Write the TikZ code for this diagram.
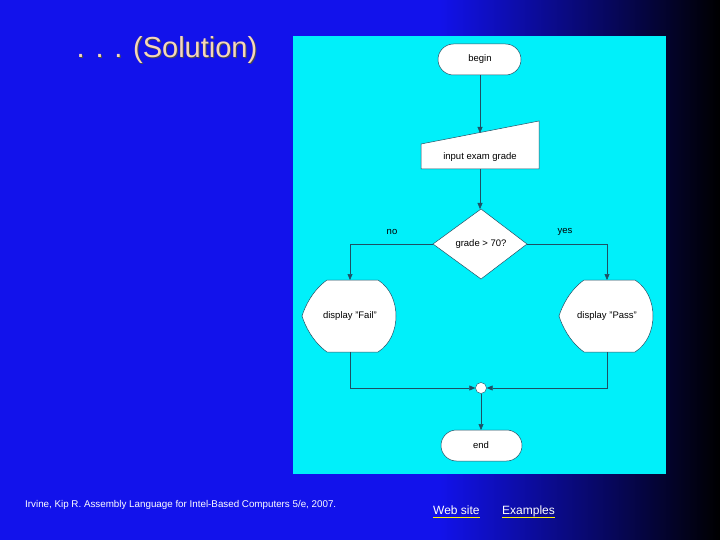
\documentclass[tikz,border=0pt]{standalone}
\usepackage{fontspec}
\setmainfont{Liberation Sans}
\usetikzlibrary{shapes.geometric,arrows.meta}
\definecolor{bgblue}{RGB}{18,18,235}
\definecolor{cyanbg}{RGB}{0,240,250}
\definecolor{titlec}{RGB}{245,215,185}
\definecolor{linec}{RGB}{30,80,100}
\begin{document}
\begin{tikzpicture}[x=1pt,y=-1pt,
  box/.style={draw=linec,fill=white,line width=0.5pt},
  lbl/.style={font=\fontsize{9.5}{11}\selectfont,text=black},
  conn/.style={draw=linec,line width=0.5pt},
  arr/.style={conn,-{Triangle[length=6pt,width=5pt]}}]
\useasboundingbox (0,0) rectangle (720,540);
\fill[bgblue] (0,0) rectangle (440,540);
\shade[left color=bgblue,right color=black] (439,0) rectangle (720,540);
\fill[cyanbg] (293,36) rectangle (666,474);
% title
\node[text=black!70,font=\fontsize{29}{32}\selectfont] at (168,51) {. . . (Solution)};
\node[text=titlec,font=\fontsize{29}{32}\selectfont] (title) at (167,50) {. . . (Solution)};
% shapes
\draw[box,rounded corners=15.5pt] (438,44) rectangle (521,75);
\node[lbl] (begin) at (480,59) {begin};
\draw[box] (421,144) -- (539,121) -- (539,169) -- (421,169) -- cycle;
\node[lbl] (input) at (480,157) {input exam grade};
\draw[box] (481,209) -- (527,244) -- (481,279) -- (433,244) -- cycle;
\node[lbl] (dec) at (481,244) {grade > 70?};
\coordinate (decL) at (433,244);
\coordinate (decR) at (527,244);
\draw[box] (327,280) -- (378,280) .. controls (402,295) and (402,337) .. (378,352) -- (327,352) .. controls (313,342) and (305,326) .. (302,316) .. controls (305,306) and (313,290) .. (327,280) -- cycle;
\node[lbl] (fail) at (350,316) {display "Fail"};
\draw[box] (584,280) -- (635,280) .. controls (659,295) and (659,337) .. (635,352) -- (584,352) .. controls (570,342) and (562,326) .. (559,316) .. controls (562,306) and (570,290) .. (584,280) -- cycle;
\node[lbl] (pass) at (607,316) {display "Pass"};
\node[circle,draw=linec,fill=white,minimum size=11pt,inner sep=0pt] (join) at (481,388) {};
\draw[box,rounded corners=15.5pt] (441,430) rectangle (522,461);
\node[lbl] (end) at (481,445) {end};
% connectors
\draw[arr] (480,75) -- (480,133);
\draw[arr] (480,169) -- (480,209);
\draw[arr] (decL) -| (350,280);
\draw[arr] (decR) -| (607,280);
\draw[arr] (350,352) |- (join.west);
\draw[arr] (607,352) |- (join.east);
\draw[arr] (join) -- (481,430);
\node[lbl] (no) at (392,232) {no};
\node[lbl] (yes) at (565,232) {yes};
% footer
\node[text=white,font=\fontsize{9.8}{11}\selectfont,anchor=west,inner sep=0pt] (cite) at (25,505) {Irvine, Kip R. Assembly Language for Intel-Based Computers 5/e, 2007.};
\node[text=white,font=\fontsize{12}{14}\selectfont,anchor=base west,inner sep=0pt] (web) at (433,514) {Web site};
\node[text=white,font=\fontsize{12}{14}\selectfont,anchor=base west,inner sep=0pt] (ex) at (502,514) {Examples};
\draw[yellow,line width=1.2pt] ([yshift=-3.5pt]web.base west) -- ([yshift=-3.5pt]web.base east);
\draw[yellow,line width=1.2pt] ([yshift=-3.5pt]ex.base west) -- ([yshift=-3.5pt]ex.base east);
\end{tikzpicture}
\end{document}
